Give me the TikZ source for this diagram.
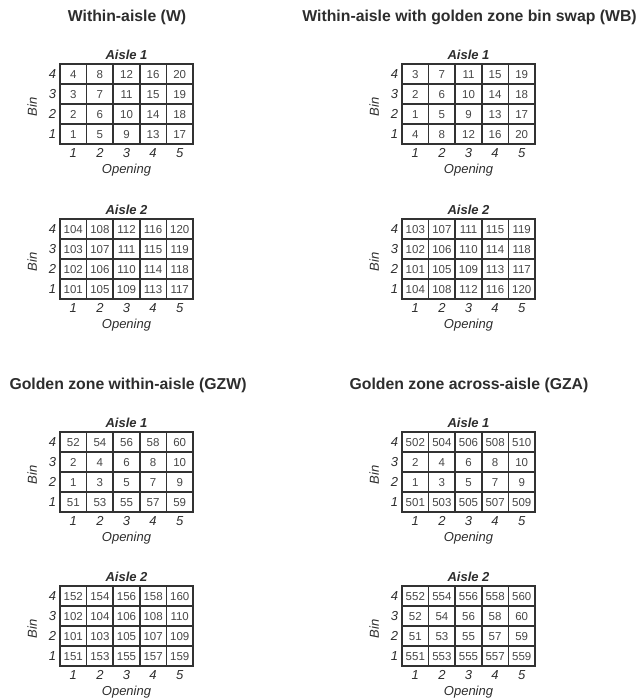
\documentclass[tikz,border=0pt]{standalone}
\usepackage{fontspec}
\setmainfont{Liberation Sans}
\usetikzlibrary{positioning,calc}
\definecolor{GridGray}{RGB}{50,50,50}
\definecolor{CellText}{RGB}{70,70,70}
\definecolor{LabelGray}{RGB}{45,45,45}
\tikzset{
  cell/.style={
    draw=GridGray,
    line width=1.6pt,
    minimum width=26.6pt,
    minimum height=20pt,
    inner sep=0pt,
    text height=8.2pt,
    text depth=0pt,
    text=CellText,
    font=\fontsize{11.5}{13}\selectfont
  },
  aislelabel/.style={font=\fontsize{13}{15}\selectfont\bfseries\itshape,text=LabelGray,inner sep=0pt},
  axislabel/.style={font=\fontsize{13}{15}\selectfont\itshape,text=LabelGray,inner sep=0pt},
  paneltitle/.style={font=\fontsize{15.8}{18}\selectfont\bfseries,text=LabelGray,inner sep=0pt}
}
% #1 name, #2 top-left corner of the grid, #3 aisle label, #4 rows from bin 4 down to bin 1
\newcommand{\aislegrid}[4]{%
  \begin{scope}[shift={#2}]
    \foreach \vals [count=\r] in {#4} {
      \foreach \v [count=\c] in \vals {
        \node[cell] (#1-\c-\r) at ({(\c-0.5)*26.6},{-(\r-0.5)*20}) {\v};
      }
    }
  \end{scope}
  \node[aislelabel, above=3.5pt of #1-3-1] (#1-label) {#3};
  \foreach \c in {1,...,5}
    \node[axislabel, below=3.5pt of #1-\c-4] (#1-o\c) {\c};
  \foreach \r [evaluate=\r as \b using int(5-\r)] in {1,...,4}
    \node[axislabel, left=3pt of #1-1-\r] (#1-b\b) {\b};
  \node[axislabel, below=6pt of #1-o3] (#1-open) {Opening};
  \node[axislabel, rotate=90] (#1-bin) at ($(#1-1-2.south west)+(-27pt,-2pt)$) {Bin};
}

\begin{document}
\begin{tikzpicture}[x=1pt, y=1pt]
  \useasboundingbox (0,0) rectangle (637,698);

  \node[paneltitle] (W-title) at (127,681) {Within-aisle (W)};
  \node[paneltitle] (WB-title) at (469.5,681) {Within-aisle with golden zone bin swap (WB)};
  \node[paneltitle] (GZW-title) at (128,313) {Golden zone within-aisle (GZW)};
  \node[paneltitle] (GZA-title) at (469,313) {Golden zone across-aisle (GZA)};

  % within-aisle
  \aislegrid{W1}{(60,634)}{Aisle 1}{{4,8,12,16,20},{3,7,11,15,19},{2,6,10,14,18},{1,5,9,13,17}}
  \aislegrid{W2}{(60,479)}{Aisle 2}{{104,108,112,116,120},{103,107,111,115,119},{102,106,110,114,118},{101,105,109,113,117}}

  % bin swap
  \aislegrid{WB1}{(402,634)}{Aisle 1}{{3,7,11,15,19},{2,6,10,14,18},{1,5,9,13,17},{4,8,12,16,20}}
  \aislegrid{WB2}{(402,479)}{Aisle 2}{{103,107,111,115,119},{102,106,110,114,118},{101,105,109,113,117},{104,108,112,116,120}}

  % golden zone within-aisle
  \aislegrid{GZW1}{(60,266)}{Aisle 1}{{52,54,56,58,60},{2,4,6,8,10},{1,3,5,7,9},{51,53,55,57,59}}
  \aislegrid{GZW2}{(60,112)}{Aisle 2}{{152,154,156,158,160},{102,104,106,108,110},{101,103,105,107,109},{151,153,155,157,159}}

  % golden zone across-aisle
  \aislegrid{GZA1}{(402,266)}{Aisle 1}{{502,504,506,508,510},{2,4,6,8,10},{1,3,5,7,9},{501,503,505,507,509}}
  \aislegrid{GZA2}{(402,112)}{Aisle 2}{{552,554,556,558,560},{52,54,56,58,60},{51,53,55,57,59},{551,553,555,557,559}}
\end{tikzpicture}
\end{document}
